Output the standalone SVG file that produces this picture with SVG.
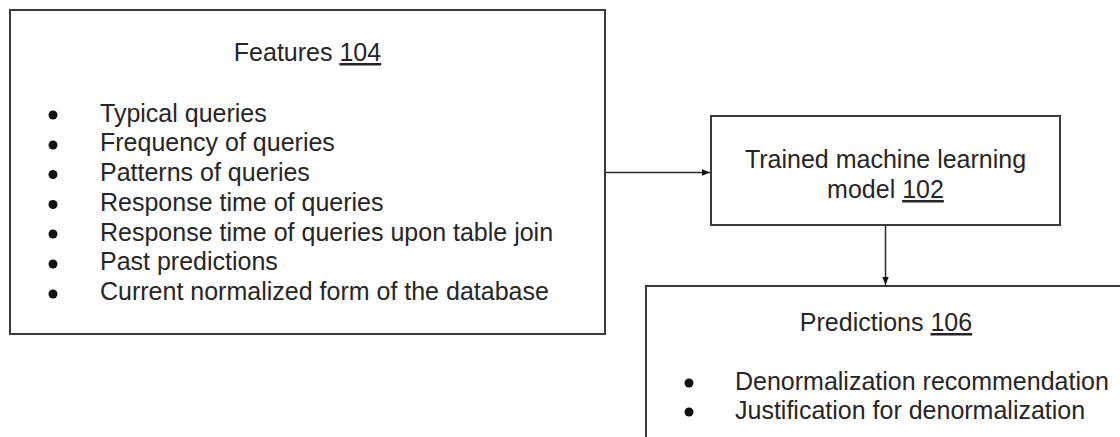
<svg xmlns="http://www.w3.org/2000/svg" width="1120" height="437" viewBox="0 0 1120 437">
<defs>
<style>
.box{fill:#fff;stroke:#3a3a3a;stroke-width:2}
.t{font-family:"Liberation Sans",Arial,sans-serif;font-size:25px;fill:#262626}
.c{text-anchor:middle}
.u{text-decoration:underline}
.b{fill:#111}
.conn{stroke:#2a2a2a;stroke-width:1.5;fill:none}
</style>
<marker id="ah" markerWidth="8" markerHeight="8" refX="8" refY="4" orient="auto" markerUnits="userSpaceOnUse">
<path d="M0,0.8 L8,4 L0,7.2 Z" fill="#111"/>
</marker>
</defs>
<rect width="1120" height="437" fill="#fff"/>
<g id="connectors">
<line class="conn" x1="606" y1="172.5" x2="710" y2="172.5" marker-end="url(#ah)"/>
<line class="conn" x1="885.5" y1="226" x2="885.5" y2="285" marker-end="url(#ah)"/>
</g>
<g id="features">
<rect class="box" x="10" y="10" width="595" height="324"/>
<text class="t c" x="307.5" y="61">Features <tspan class="u">104</tspan></text>
<circle class="b" cx="53" cy="115" r="4.5"/>
<circle class="b" cx="53" cy="145" r="4.5"/>
<circle class="b" cx="53" cy="174.5" r="4.5"/>
<circle class="b" cx="53" cy="204.5" r="4.5"/>
<circle class="b" cx="53" cy="234" r="4.5"/>
<circle class="b" cx="53" cy="264" r="4.5"/>
<circle class="b" cx="53" cy="294" r="4.5"/>
<text class="t" x="100" y="121.5">Typical queries</text>
<text class="t" x="100" y="151.2">Frequency of queries</text>
<text class="t" x="100" y="181">Patterns of queries</text>
<text class="t" x="100" y="210.7">Response time of queries</text>
<text class="t" x="100" y="240.5">Response time of queries upon table join</text>
<text class="t" x="100" y="270.2">Past predictions</text>
<text class="t" x="100" y="300">Current normalized form of the database</text>
</g>
<g id="model">
<rect class="box" x="711" y="116" width="349" height="109"/>
<text class="t c" x="885.5" y="168">Trained machine learning</text>
<text class="t c" x="885.5" y="198">model <tspan class="u">102</tspan></text>
</g>
<g id="predictions">
<rect class="box" x="646" y="286" width="490" height="170"/>
<text class="t c" x="886" y="331">Predictions <tspan class="u">106</tspan></text>
<circle class="b" cx="689" cy="383" r="4.5"/>
<circle class="b" cx="689" cy="412" r="4.5"/>
<text class="t" x="735" y="389.5">Denormalization recommendation</text>
<text class="t" x="735" y="419">Justification for denormalization</text>
</g>
</svg>
